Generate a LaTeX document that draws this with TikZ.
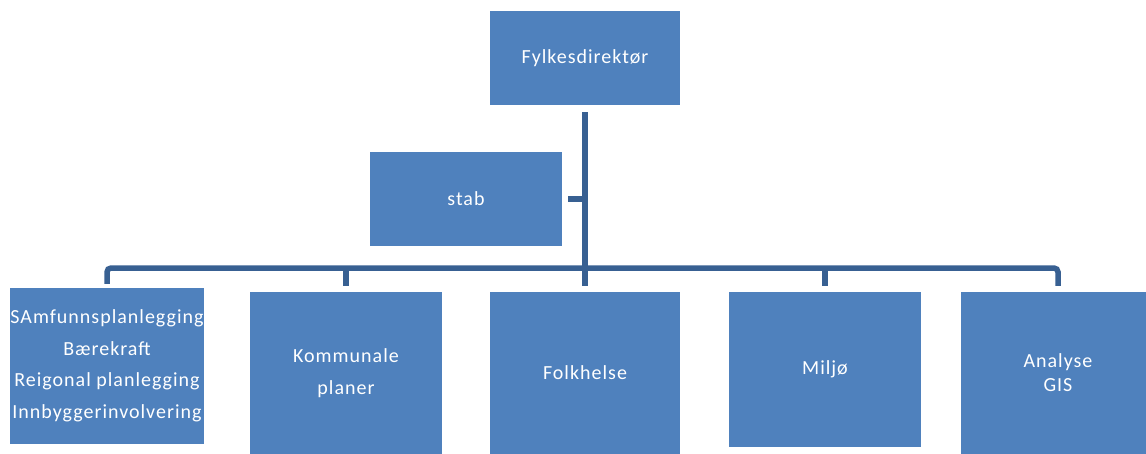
\documentclass[tikz,border=0pt]{standalone}
\usepackage{fontspec}
\setmainfont{Carlito}[LetterSpace=5]
\definecolor{boxblue}{HTML}{4F81BD}
\definecolor{lineblue}{HTML}{386092}
\begin{document}
\begin{tikzpicture}[x=1pt,y=-1pt,
  box/.style={fill=boxblue, draw=none, inner sep=0pt, text=white, align=center,
    font=\fontsize{20}{32}\selectfont},
  conn/.style={draw=lineblue, line width=5.5pt}]
\useasboundingbox (0,0) rectangle (1146,453);
\node[box, minimum width=190pt, minimum height=94pt] (top) at (585,58) {Fylkesdirektør};
\node[box, minimum width=192pt, minimum height=94pt] (stab) at (466,199) {stab};
\node[box, minimum width=192pt, minimum height=156pt, font=\fontsize{20}{31.5}\selectfont] (b1) at (107,366)
  {SAmfunnsplanlegging\\Bærekraft\\Reigonal planlegging\\Innbyggerinvolvering};
\node[box, minimum width=192pt, minimum height=162pt] (kom) at (346,373) {Kommunale\\planer};
\node[box, minimum width=190pt, minimum height=162pt] (folk) at (585,373) {Folkhelse};
\node[box, minimum width=192pt, minimum height=155pt] (milj) at (825,369.5) {Miljø};
\node[box, minimum width=194pt, minimum height=162pt, font=\fontsize{20}{24}\selectfont] (ana) at (1058,373) {Analyse\\GIS};
\coordinate (bus) at (585,268);
\draw[conn] ([yshift=-7pt]top.south) -- ([yshift=6pt]folk.north);
\draw[conn] ([xshift=6pt]stab.east) -- (stab.east -| top.south);
\draw[conn, rounded corners=4pt] ([yshift=4pt]b1.north) |- (bus) -| ([yshift=6pt]ana.north);
\draw[conn] (kom.north |- bus) -- ([yshift=6pt]kom.north);
\draw[conn] (milj.north |- bus) -- ([yshift=6pt]milj.north);
\end{tikzpicture}
\end{document}
